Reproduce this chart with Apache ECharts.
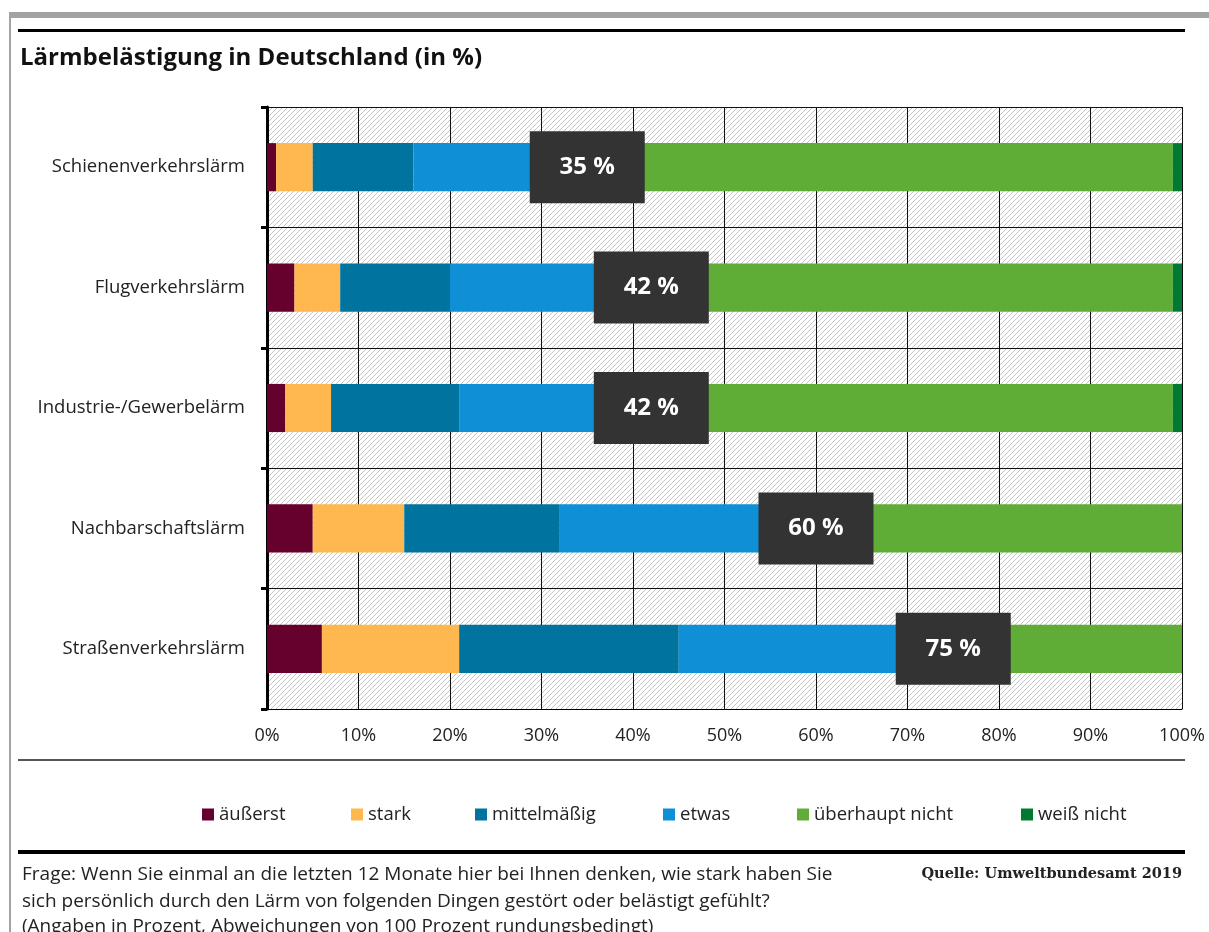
<!DOCTYPE html>
<html>
<head>
<meta charset="utf-8">
<script src="https://cdn.jsdelivr.net/npm/echarts@6/dist/echarts.min.js"></script>
<style>
  html, body { margin: 0; padding: 0; background: #fff; }
  #main { width: 1209px; height: 932px; }
</style>
</head>
<body>
<div id="main"></div>
<script>
// Kategorien (von oben nach unten)
var categories = ["Schienenverkehrslärm", "Flugverkehrslärm", "Industrie-/Gewerbelärm", "Nachbarschaftslärm", "Straßenverkehrslärm"];
var seriesNames = ["äußerst", "stark", "mittelmäßig", "etwas", "überhaupt nicht", "weiß nicht"];

// Werte in Prozent
var aeusserst      = [1, 3, 2, 5, 6];
var stark          = [4, 5, 5, 10, 15];
var mittelmaessig  = [11, 12, 14, 17, 24];
var etwas          = [19, 22, 21, 28, 30];
var ueberhauptNicht = [64, 57, 57, 40, 25];
var weissNicht     = [1, 1, 1, 0, 0];

// Summe belästigt (äußerst bis etwas)
var belaestigt = [35, 42, 42, 60, 75];

var colors = ["#66002c", "#ffb74f", "#00739f", "#0e8fd6", "#5fad36", "#007a33"];
var FONT = "'Open Sans', 'Liberation Sans', sans-serif";

// Schraffur für den Hintergrund
function hatch() {
  var c = document.createElement("canvas");
  c.width = 5; c.height = 5;
  var g = c.getContext("2d");
  g.strokeStyle = "#c4c4c4";
  g.lineWidth = 1;
  g.beginPath();
  g.moveTo(0, 5); g.lineTo(5, 0);
  g.moveTo(-1, 1); g.lineTo(1, -1);
  g.moveTo(4, 6); g.lineTo(6, 4);
  g.stroke();
  return c;
}

var chart = echarts.init(document.getElementById("main"));

var values = [aeusserst, stark, mittelmaessig, etwas, ueberhauptNicht, weissNicht];
var series = values.map(function (arr, i) {
  return {
    name: seriesNames[i],
    type: "bar",
    stack: "total",
    barWidth: "40%",
    data: arr,
    itemStyle: { color: colors[i] },
    emphasis: { disabled: true },
    z: 3
  };
});

series.push({
  name: "belästigt",
  type: "scatter",
  symbol: "rect",
  symbolSize: [115, 72],
  data: belaestigt.map(function (v, i) { return [v, categories[i]]; }),
  itemStyle: { color: "#333333", opacity: 1 },
  label: {
    show: true,
    position: "inside",
    formatter: function (p) { return p.value[0] + " %"; },
    color: "#ffffff",
    fontFamily: FONT,
    fontWeight: "bold",
    fontSize: 24
  },
  emphasis: { disabled: true },
  z: 5
});

// Legende: einzelne Einträge an festen Positionen
var legendX = [202, 351, 475, 663, 797, 1021];
var legends = seriesNames.map(function (n, i) {
  return {
    data: [n],
    left: legendX[i],
    top: 805,
    padding: 0,
    icon: "rect",
    itemWidth: 12,
    itemHeight: 12,
    textStyle: { fontFamily: FONT, fontSize: 18.5, color: "#222" },
    selectedMode: false
  };
});

chart.setOption({
  animation: false,
  textStyle: { fontFamily: FONT },
  grid: {
    left: 267, right: 27, top: 107, bottom: 223,
    show: true,
    backgroundColor: { image: hatch(), repeat: "repeat" },
    borderWidth: 0
  },
  legend: legends,
  xAxis: {
    type: "value",
    min: 0, max: 100, interval: 10,
    axisLabel: {
      formatter: function (v) { return v + "%"; },
      fontFamily: FONT, fontSize: 18, color: "#222", margin: 18
    },
    axisLine: { show: true, lineStyle: { color: "#000", width: 1 } },
    axisTick: { show: false },
    splitLine: { show: true, lineStyle: { color: "#111", width: 1 } }
  },
  yAxis: {
    type: "category",
    data: categories,
    inverse: true,
    axisLabel: { fontFamily: FONT, fontSize: 18.5, color: "#222", margin: 22 },
    axisLine: { show: true, lineStyle: { color: "#000", width: 3 } },
    axisTick: { show: true, length: 6, lineStyle: { color: "#000", width: 3 } },
    splitLine: { show: true, lineStyle: { color: "#111", width: 1 } }
  },
  graphic: [
    { type: "rect", shape: { x: 9, y: 12, width: 1200, height: 6 }, style: { fill: "#a3a3a3" } },
    { type: "rect", shape: { x: 9, y: 12, width: 2, height: 920 }, style: { fill: "#a3a3a3" } },
    { type: "rect", shape: { x: 18, y: 29, width: 1167, height: 3 }, style: { fill: "#000" } },
    { type: "text", left: 20, top: 46, style: { text: "Lärmbelästigung in Deutschland (in %)", font: "bold 24px " + FONT, fill: "#111" } },
    { type: "rect", shape: { x: 18, y: 759, width: 1167, height: 2 }, style: { fill: "#555" } },
    { type: "rect", shape: { x: 18, y: 850, width: 1167, height: 4 }, style: { fill: "#000" } },
    { type: "text", left: 22, top: 865, style: { text: "Frage: Wenn Sie einmal an die letzten 12 Monate hier bei Ihnen denken, wie stark haben Sie", font: "19px " + FONT, fill: "#222" } },
    { type: "text", left: 22, top: 892, style: { text: "sich persönlich durch den Lärm von folgenden Dingen gestört oder belästigt gefühlt?", font: "19px " + FONT, fill: "#222" } },
    { type: "text", left: 22, top: 917, style: { text: "(Angaben in Prozent, Abweichungen von 100 Prozent rundungsbedingt)", font: "19px " + FONT, fill: "#222" } },
    { type: "text", right: 27, top: 867, style: { text: "Quelle: Umweltbundesamt 2019", font: "bold 14.5px 'DejaVu Serif', 'Liberation Serif', serif", fill: "#222" } }
  ],
  series: series
});
</script>
</body>
</html>
